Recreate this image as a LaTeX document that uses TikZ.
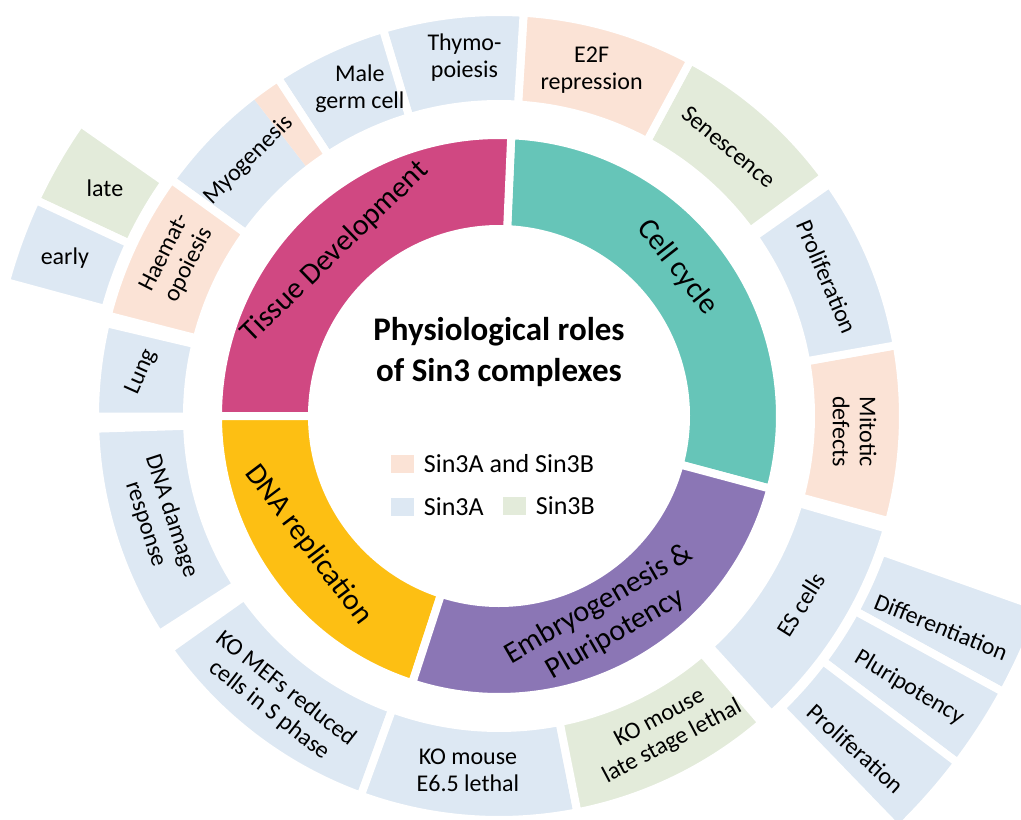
\documentclass[tikz,border=0pt]{standalone}
\usepackage{fontspec}
\setmainfont{Carlito}
\usetikzlibrary{positioning}

\definecolor{tissue}{RGB}{208,72,130}
\definecolor{cycle}{RGB}{102,197,184}
\definecolor{embryo}{RGB}{139,118,181}
\definecolor{replic}{RGB}{253,191,19}
\definecolor{both}{RGB}{251,227,214}
\definecolor{sinA}{RGB}{221,232,243}
\definecolor{sinB}{RGB}{227,235,218}

% ring segment: inner radius, outer radius, start angle, end angle, colour
\newcommand{\segm}[5]{\filldraw[seg,fill=#5] (#3:#1) arc[start angle=#3,end angle=#4,radius=#1] -- (#4:#2) arc[start angle=#4,end angle=#3,radius=#2] -- cycle;}

\tikzset{
  seg/.style={draw=white,line width=8pt,line join=miter},
  lab/.style={font=\fontsize{24}{27}\selectfont,align=center,inner sep=0pt},
  big/.style={font=\fontsize{30}{34}\selectfont,align=center,inner sep=0pt},
  key/.style={minimum width=23pt,minimum height=18pt,inner sep=0pt},
  keytext/.style={font=\fontsize{26}{28}\selectfont,inner sep=0pt,anchor=west}
}

\begin{document}
\begin{tikzpicture}[x=1pt,y=1pt]
	\useasboundingbox[fill=white] (-499,-404) rectangle (522,416);
	\clip (-499,-404) rectangle (522,416);
	
	% inner ring
	\segm{187}{281}{-15}{87.5}{cycle}
	\segm{187}{281}{87.5}{180}{tissue}
	\segm{187}{281}{180}{252}{replic}
	\segm{187}{281}{252}{345}{embryo}
	
	% second ring
	\segm{312}{404}{36.4}{61.7}{sinB}
	\segm{312}{404}{61.7}{86.5}{both}
	\segm{312}{404}{86.5}{106.7}{sinA}
	\segm{312}{404}{106.7}{123.2}{sinA}
	\fill[sinA] (127.7:312) arc[start angle=127.7,end angle=144.2,radius=312] -- (144.2:404) arc[start angle=144.2,end angle=127.7,radius=404] -- cycle;
	\fill[both] (123.2:312) arc[start angle=123.2,end angle=127.7,radius=312] -- (127.7:404) arc[start angle=127.7,end angle=123.2,radius=404] -- cycle;
	\draw[seg] (123.2:312) arc[start angle=123.2,end angle=144.2,radius=312] -- (144.2:404) arc[start angle=144.2,end angle=123.2,radius=404] -- cycle;
	\segm{312}{404}{144.2}{165.6}{both}
	\segm{312}{404}{166.7}{180.1}{sinA}
	\segm{312}{404}{181.8}{212.7}{sinA}
	\segm{312}{404}{215.3}{250}{sinA}
	\segm{312}{404}{250}{281.2}{sinA}
	\segm{312}{404}{281.2}{310.6}{sinB}
	\segm{312}{404}{312.4}{343.8}{sinA}
	\segm{312}{404}{344.9}{370.1}{both}
	\segm{312}{404}{10.1}{35.1}{sinA}
	
	% third ring
	\segm{408}{511}{145}{155}{sinB}
	\segm{408}{511}{155}{164.8}{sinA}
	\segm{406}{575}{-19.5}{-28.7}{sinA}
	\segm{406}{575}{-28.7}{-37.1}{sinA}
	\segm{406}{575}{-37.1}{-46}{sinA}
	
	% centre
	\node[font=\fontsize{33}{41}\selectfont\bfseries,align=center] (ttl) at (0,64) {Physiological roles\\of Sin3 complexes};
	\node[key,fill=both] (kboth) at (-96,-48) {};
	\node[keytext,right=9pt of kboth] (tboth) {Sin3A and Sin3B};
	\node[key,fill=sinA] (ka) at (-96,-91) {};
	\node[keytext,right=9pt of ka] (ta) {Sin3A};
	\node[key,fill=sinB] (kb) at (16,-90) {};
	\node[keytext,right=9pt of kb] (tb) {Sin3B};
	
	% inner labels
	\node[big,rotate=-52] (cyc) at (39.8:232) {Cell cycle};
	\node[big,rotate=44] (tis) at (135:232) {Tissue Development};
	\node[big,rotate=-53] (rep) at (214:230) {DNA replication};
	\node[big,rotate=30] (emb) at (-62:230) {Embryogenesis \&\\Pluripotency};
	
	% second ring labels
	\node[lab,rotate=-40] (sen) at (49.5:354) {Senescence};
	\node[lab] (e2f) at (75:358) {E2F\\repression};
	\node[lab] (thy) at (95.5:360) {Thymo-\\poiesis};
	\node[lab] (mgc) at (113:356) {Male\\germ cell};
	\node[lab,rotate=45] (myo) at (134.4:358) {Myogenesis};
	\node[lab,rotate=63] (hae) at (154:358) {Haemat-\\opoiesis};
	\node[lab,rotate=66] (lun) at (173:360) {Lung};
	\node[lab,rotate=-72] (dna) at (197:356) {DNA damage\\response};
	\node[lab,rotate=-38] (mef) at (232:360) {KO MEFs reduced\\cells in S phase};
	\node[lab] (e65) at (265:356) {KO mouse\\E6.5 lethal};
	\node[lab,rotate=28] (lsl) at (-62:356) {KO mouse\\late stage lethal};
	\node[lab,rotate=58] (esc) at (-32:356) {ES cells};
	\node[lab,rotate=-90] (mit) at (-2.5:356) {Mitotic\\defects};
	\node[lab,rotate=-67] (pro) at (23:356) {Proliferation};
	
	% third ring labels
	\node[lab] (lat) at (150:455) {late};
	\node[lab] (ear) at (160:462) {early};
	\node[lab,rotate=-22] (dif) at (-25.5:490) {Differentiation};
	\node[lab,rotate=-31] (plu) at (-33.5:492) {Pluripotency};
	\node[lab,rotate=-42] (pr2) at (-43:488) {Proliferation};
\end{tikzpicture}
\end{document}
